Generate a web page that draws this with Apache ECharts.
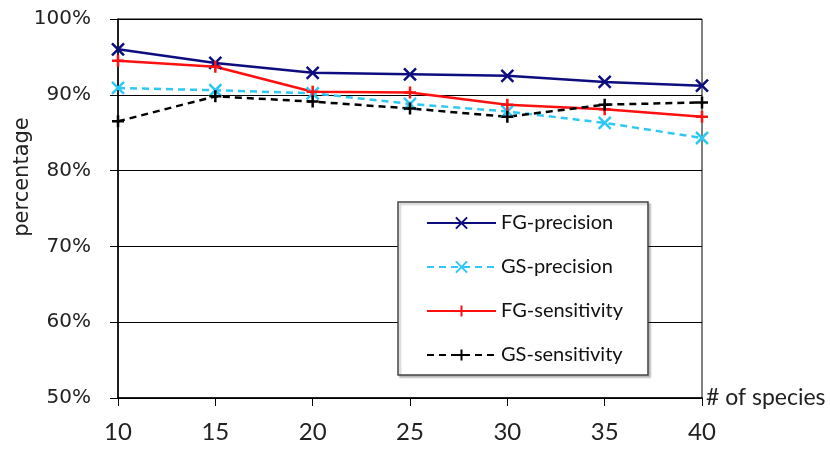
<!DOCTYPE html>
<html>
<head>
	<meta charset="utf-8">
	<title>precision / sensitivity vs species</title>
	<style type="text/css">
		body{margin:0;background:#fff;}
		#main{width:830px;height:451px;}
	</style>
</head>
<body>
<div id="main"></div>
<script type="text/javascript" src="https://cdn.jsdelivr.net/npm/echarts@6/dist/echarts.min.js"></script>
<script type="text/javascript">
	// data (values in %)
	var species = ['10','15','20','25','30','35','40'];
	var fgPrecision = [96.0, 94.2, 92.9, 92.7, 92.5, 91.7, 91.2];
	var gsPrecision = [90.9, 90.6, 90.2, 88.8, 87.8, 86.3, 84.3];
	var fgSensitivity = [94.5, 93.7, 90.4, 90.3, 88.7, 88.1, 87.1];
	var gsSensitivity = [86.5, 89.8, 89.1, 88.2, 87.1, 88.7, 89.0];

	var crossSym = 'path://M0,0L10,10M10,0L0,10';
	var plusSym = 'path://M5,0L5,10M0,5L10,5';

	function mkSeries(name, data, color, dashed, sym){
		return {
			name: name,
			type: 'line',
			data: data,
			symbol: sym,
			symbolSize: 12,
			lineStyle: {color: color, width: 2.5, type: dashed ? [7,5] : 'solid'},
			itemStyle: {color: color, borderColor: color, borderWidth: 2.5},
			emphasis: {disabled: true},
			animation: false
		};
	}

	var myChart = echarts.init(document.getElementById('main'));

	var option = {
		backgroundColor: '#fff',
		grid: {
			left: 118,
			right: 128,
			top: 19,
			bottom: 53,
			show: true,
			borderColor: '#000',
			borderWidth: 1
		},
		legend: {
			orient: 'vertical',
			left: 398,
			top: 202,
			padding: [11, 25, 10, 28],
			itemGap: 24,
			itemWidth: 69,
			itemHeight: 14,
			backgroundColor: '#fff',
			borderColor: '#444',
			borderWidth: 1.5,
			shadowColor: 'rgba(0,0,0,0.25)',
			shadowOffsetX: 2,
			shadowOffsetY: 2,
			shadowBlur: 2,
			textStyle: {fontFamily: 'Lato', fontSize: 20, color: '#111'},
			data: ['FG-precision','GS-precision','FG-sensitivity','GS-sensitivity']
		},
		xAxis: {
			type: 'category',
			data: species,
			boundaryGap: false,
			name: '# of species',
			nameLocation: 'end',
			nameGap: 4,
			nameTextStyle: {fontFamily: 'Lato', fontSize: 23, color: '#222'},
			axisLine: {lineStyle: {color: '#000', width: 1.5}},
			axisTick: {show: true, length: 8, inside: false, lineStyle: {color: '#000'}},
			axisLabel: {fontFamily: 'Lato', fontSize: 24, color: '#222', margin: 22},
			splitLine: {show: false}
		},
		yAxis: {
			type: 'value',
			min: 50,
			max: 100,
			interval: 10,
			axisLine: {show: true, lineStyle: {color: '#000', width: 1.5}},
			axisTick: {show: true, length: 8, lineStyle: {color: '#000'}},
			axisLabel: {formatter: '{value}%', fontFamily: 'DejaVu Sans', fontSize: 20, color: '#222', margin: 27},
			splitLine: {show: true, lineStyle: {color: '#000', width: 1}}
		},
		graphic: [{
			type: 'text',
			x: 23,
			y: 177,
			rotation: Math.PI / 2,
			style: {
				text: 'percentage',
				font: '21px "DejaVu Sans"',
				fill: '#222',
				align: 'center',
				verticalAlign: 'middle'
			}
		}],
		series: [
			mkSeries('FG-precision', fgPrecision, '#0d0d80', false, crossSym),
			mkSeries('GS-precision', gsPrecision, '#2ec8f5', true, crossSym),
			mkSeries('FG-sensitivity', fgSensitivity, '#ff1010', false, plusSym),
			mkSeries('GS-sensitivity', gsSensitivity, '#000000', true, plusSym)
		]
	};

	myChart.setOption(option);
</script>
</body>
</html>
